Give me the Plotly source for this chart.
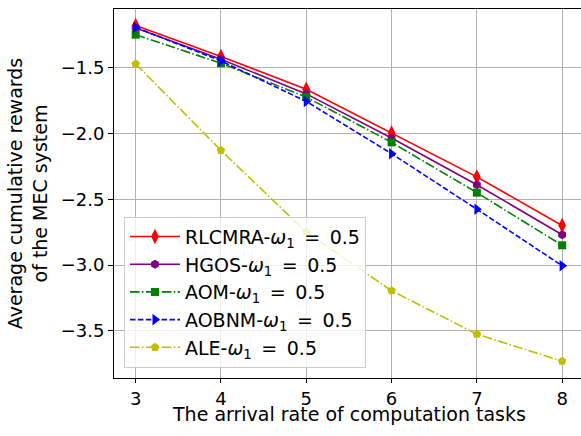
import plotly.graph_objects as go

x_vals = [3, 4, 5, 6, 7, 8]
rlcmra = [-1.18, -1.415, -1.665, -1.997, -2.33, -2.70]
hgos = [-1.20, -1.437, -1.70, -2.035, -2.39, -2.77]
aom = [-1.25, -1.467, -1.724, -2.068, -2.45, -2.85]
aobnm = [-1.195, -1.45, -1.757, -2.154, -2.576, -3.005]
ale = [-1.472, -2.129, -2.75, -3.195, -3.525, -3.73]

x_ticks = [3, 4, 5, 6, 7, 8]
y_ticks = [-1.5, -2.0, -2.5, -3.0, -3.5]
y_tick_text = ["\u22121.5", "\u22122.0", "\u22122.5", "\u22123.0", "\u22123.5"]

FONT = "DejaVu Sans"
FS = 19
TFS = 18

series = [
    ("RLCMRA", rlcmra, "red", "solid", "diamond-tall", 11),
    ("HGOS", hgos, "purple", "solid", "hexagon", 9),
    ("AOM", aom, "green", "9.6px,2.4px,1.5px,2.4px", "square", 8),
    ("AOBNM", aobnm, "blue", "5.5px,2.4px", "triangle-right", 10),
    ("ALE", ale, "#bfbf00", "9.6px,2.4px,1.5px,2.4px", "pentagon", 9),
]

fig = go.Figure()
for i, (name, ys, col, dash, sym, ms) in enumerate(series):
    fig.add_trace(go.Scatter(
        x=x_vals, y=ys, mode="lines+markers",
        name=name + "-<i>\u03c9</i><sub>1</sub>\u2002=\u20020.5",
        line=dict(color=col, width=1.6, dash=dash),
        marker=dict(symbol=sym, size=ms, color=col, line=dict(width=0)),
        legendgroup="g%d" % i,
    ))

fig.add_annotation(
    text="The arrival rate of computation tasks",
    xref="paper", yref="paper", x=(349 - 114) / 467, y=(378.3 - 414.5) / 369.3,
    xanchor="center", yanchor="middle", showarrow=False,
    font=dict(family=FONT, size=FS, color="black"),
)

fig.update_layout(
    width=581, height=436,
    margin=dict(l=114, r=0, t=9, b=58),
    plot_bgcolor="white", paper_bgcolor="white",
    font=dict(family=FONT, size=FS, color="black"),
    showlegend=True,
    legend=dict(
        x=0.0214, y=0.028, xanchor="left", yanchor="bottom",
        bgcolor="rgba(255,255,255,0.8)", bordercolor="#cccccc", borderwidth=1,
        font=dict(family=FONT, size=FS),
        itemwidth=50, tracegroupgap=0,
    ),
    xaxis=dict(
        range=[2.746, 8.221], tickvals=x_ticks, ticks="outside", ticklen=4,
        tickcolor="black", showline=True, linecolor="black", linewidth=1,
        mirror=True, showgrid=True, gridcolor="#b0b0b0", gridwidth=0.8,
        zeroline=False, tickfont=dict(family=FONT, size=TFS),
    ),
    yaxis=dict(
        range=[-3.858, -1.055], tickvals=y_ticks, ticktext=y_tick_text,
        ticks="outside", ticklen=5, tickcolor="black",
        showline=True, linecolor="black", linewidth=1,
        showgrid=True, gridcolor="#b0b0b0", gridwidth=0.8, zeroline=False,
        tickfont=dict(family=FONT, size=TFS),
        title=dict(text="Average cumulative rewards<br>of the MEC system",
                   standoff=8, font=dict(family=FONT, size=FS)),
    ),
)

fig.write_html("out.html")
